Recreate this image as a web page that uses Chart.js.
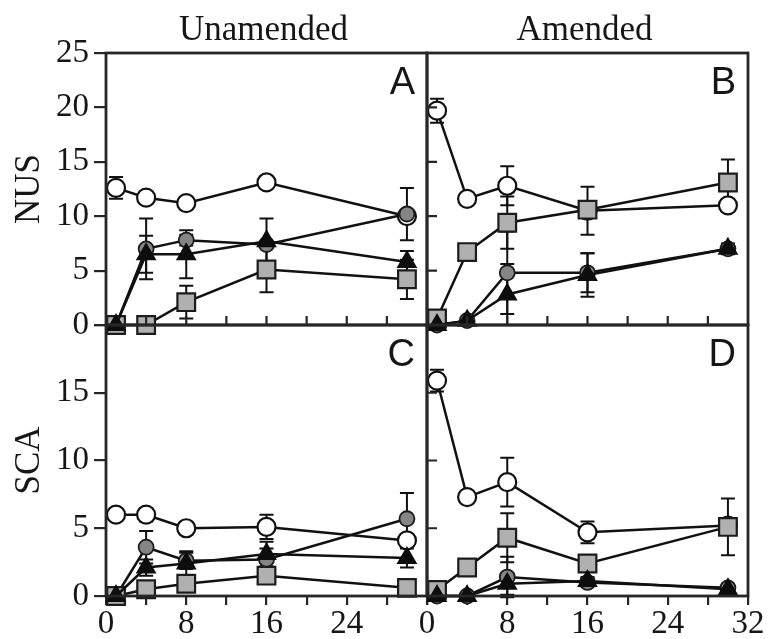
<!DOCTYPE html>
<html>
<head>
<meta charset="utf-8">
<script src="https://cdn.jsdelivr.net/npm/chart.js@4/dist/chart.umd.min.js"></script>
<style>
  html, body { margin: 0; padding: 0; background: #fff; }
  #wrap { position: relative; width: 768px; height: 639px; }
  #wrap canvas { position: absolute; left: 0; top: 0; }
</style>
</head>
<body>
<div id="wrap">
  <canvas id="pA" width="768" height="639"></canvas>
  <canvas id="pB" width="768" height="639"></canvas>
  <canvas id="pC" width="768" height="639"></canvas>
  <canvas id="pD" width="768" height="639"></canvas>
</div>
<script>
// Sampling days
const DAYS = [1, 4, 8, 16, 30];

// A: NUS, unamended
const aOpen = [12.6, 11.7, 11.2, 13.1, 10.0];
const aOpenErr = [1.0, 0, 0, 0, 0];
const aGray = [0, 7.0, 7.8, 7.4, 10.2];
const aGrayErr = [0, 2.8, 0.5, 0, 2.4];
const aTri = [0, 6.5, 6.5, 7.7, 5.8];
const aTriErr = [0, 1.7, 2.2, 2.1, 1.0];
const aSq = [0, 0, 2.1, 5.1, 4.2];
const aSqErr = [0, 0, 1.5, 2.1, 1.8];

// B: NUS, amended
const bOpen = [19.7, 11.6, 12.8, 10.5, 11.0];
const bOpenErr = [1.1, 0, 1.8, 2.2, 0.4];
const bGray = [0, 0.4, 4.8, 4.8, 7.0];
const bGrayErr = [0, 0, 3.8, 1.8, 0.4];
const bTri = [0, 0.4, 2.8, 4.6, 7.0];
const bTriErr = [0, 0, 2.8, 2.0, 0.5];
const bSq = [0.6, 6.7, 9.4, 10.6, 13.1];
const bSqErr = [0, 0, 2.4, 0.4, 2.1];

// C: SCA, unamended
const cOpen = [6.0, 6.0, 5.0, 5.1, 4.1];
const cOpenErr = [0, 0.5, 0.3, 0.9, 0];
const cGray = [0, 3.6, 2.6, 2.7, 5.7];
const cGrayErr = [0, 1.2, 0.6, 0.8, 1.9];
const cTri = [0, 2.1, 2.4, 3.1, 2.8];
const cTriErr = [0, 0.6, 0.9, 0.9, 0.7];
const cSq = [0, 0.5, 0.9, 1.5, 0.6];
const cSqErr = [0, 0, 0, 0, 0];

// D: SCA, amended
const dOpen = [15.9, 7.3, 8.4, 4.7, 5.2];
const dOpenErr = [0.8, 0, 1.8, 0.8, 0];
const dGray = [0, 0, 1.4, 1.0, 0.6];
const dGrayErr = [0, 0, 1.5, 0.3, 0.3];
const dTri = [0, 0, 0.9, 1.1, 0.5];
const dTriErr = [0, 0, 0.8, 0.3, 0.3];
const dSq = [0.45, 2.1, 4.3, 2.4, 5.1];
const dSqErr = [0, 0, 1.8, 0.5, 2.1];

const X_TICKS = [0, 8, 16, 24, 32];

const W = 768, H = 639;
const INK = '#161616';
const AXIS = '#262626';
const SERIF = '"Liberation Serif", "Times New Roman", serif';
const SANS = '"Liberation Sans", Arial, sans-serif';

const STYLES = {
  tri:  { pointStyle: 'triangle', pointRadius: 10.5, pointBackgroundColor: '#0d0d0d', pointBorderColor: '#0d0d0d', pointBorderWidth: 1.5, order: 0 },
  sq:   { pointStyle: 'rect', pointRadius: 12.5, pointBackgroundColor: '#b0b0b0', pointBorderColor: '#1c1c1c', pointBorderWidth: 2.2, order: 1 },
  gray: { pointStyle: 'circle', pointRadius: 7.5, pointBackgroundColor: '#858585', pointBorderColor: '#1c1c1c', pointBorderWidth: 1.8, order: 2 },
  open: { pointStyle: 'circle', pointRadius: 9, pointBackgroundColor: '#fff', pointBorderColor: '#111', pointBorderWidth: 2.2, order: 3 }
};

function series(values, errs, style) {
  return Object.assign({
    data: DAYS.map((d, i) => ({ x: d, y: values[i] })),
    errorBars: errs,
    showLine: true,
    borderColor: '#111',
    borderWidth: 2.5,
    tension: 0,
    clip: false,
    pointHoverRadius: style.pointRadius
  }, style);
}

// Error bars, inward ticks, frames and panel text
const decor = {
  id: 'decor',
  beforeDatasetsDraw(chart) {
    const ctx = chart.ctx;
    const ys = chart.scales.y;
    ctx.save();
    ctx.strokeStyle = '#111';
    ctx.lineWidth = 2;
    chart.data.datasets.forEach((ds, i) => {
      const meta = chart.getDatasetMeta(i);
      ds.data.forEach((pt, j) => {
        const e = ds.errorBars[j];
        if (!e) return;
        const x = meta.data[j].x;
        const y1 = ys.getPixelForValue(pt.y + e);
        const y2 = ys.getPixelForValue(pt.y - e);
        ctx.beginPath();
        ctx.moveTo(x, y1); ctx.lineTo(x, y2);
        ctx.moveTo(x - 7, y1); ctx.lineTo(x + 7, y1);
        ctx.moveTo(x - 7, y2); ctx.lineTo(x + 7, y2);
        ctx.stroke();
      });
    });
    ctx.restore();
  },
  afterDraw(chart, args, opts) {
    const ctx = chart.ctx;
    const a = chart.chartArea;
    const xs = chart.scales.x, ys = chart.scales.y;
    ctx.save();
    ctx.strokeStyle = AXIS;
    ctx.lineWidth = 2.2;
    ctx.beginPath();
    if (opts.innerX) {
      for (let v = 4; v < 32; v += 4) {
        const x = xs.getPixelForValue(v);
        ctx.moveTo(x, a.bottom); ctx.lineTo(x, a.bottom - 9);
      }
    }
    if (opts.innerY) {
      for (let v = 5; v < ys.max; v += 5) {
        const y = ys.getPixelForValue(v);
        ctx.moveTo(a.left, y); ctx.lineTo(a.left + 10, y);
      }
    }
    ctx.stroke();
    ctx.lineWidth = 2.8;
    ctx.strokeRect(a.left, a.top, a.right - a.left, a.bottom - a.top);

    ctx.fillStyle = INK;
    ctx.font = '38px ' + SANS;
    ctx.textAlign = 'right';
    ctx.textBaseline = 'alphabetic';
    ctx.fillText(opts.letter, a.right - 12, a.top + 41);

    ctx.font = '35px ' + SERIF;
    if (opts.title) {
      ctx.textAlign = 'center';
      ctx.fillText(opts.title, (a.left + a.right) / 2 - 3, 40);
    }
    if (opts.yTitle) {
      ctx.translate(39, (a.top + a.bottom) / 2);
      ctx.rotate(-Math.PI / 2);
      ctx.textAlign = 'center';
      ctx.fillText(opts.yTitle, 0, 0);
    }
    ctx.restore();
  }
};

function makePanel(p) {
  const [l, t, r, b] = p.rect;
  return new Chart(document.getElementById(p.id), {
    type: 'line',
    data: {
      datasets: [
        series(p.tri, p.triErr, STYLES.tri),
        series(p.sq, p.sqErr, STYLES.sq),
        series(p.gray, p.grayErr, STYLES.gray),
        series(p.open, p.openErr, STYLES.open)
      ]
    },
    options: {
      responsive: false,
      animation: false,
      devicePixelRatio: 1,
      events: [],
      layout: { padding: { left: 0, top: t, right: W - r, bottom: 0 } },
      plugins: {
        legend: { display: false },
        tooltip: { enabled: false },
        decor: { letter: p.letter, title: p.title, yTitle: p.yTitle, innerX: !p.bottomLabels, innerY: !p.leftLabels }
      },
      scales: {
        x: {
          type: 'linear', min: 0, max: 32, position: 'bottom',
          afterFit(s) { s.height = H - b; },
          border: { display: false },
          grid: { display: p.bottomLabels, drawOnChartArea: false, drawTicks: true, tickLength: 9, color: AXIS, lineWidth: 2.2 },
          ticks: {
            display: p.bottomLabels, stepSize: 4, autoSkip: false, maxRotation: 0, padding: 0,
            color: INK, font: { family: SERIF, size: 33 },
            callback: v => (X_TICKS.includes(v) && v <= p.xLabelMax) ? String(v) : ''
          }
        },
        y: {
          type: 'linear', min: 0, max: p.yMax,
          afterFit(s) { s.width = l; },
          border: { display: false },
          grid: { display: p.leftLabels, drawOnChartArea: false, drawTicks: true, tickLength: 12, color: AXIS, lineWidth: 2.2 },
          ticks: {
            display: p.leftLabels, stepSize: 5, padding: 5,
            color: INK, font: { family: SERIF, size: 33 },
            callback: v => (v <= p.yLabelMax) ? String(v) : ''
          }
        }
      }
    },
    plugins: [decor]
  });
}

[
  { id: 'pA', letter: 'A', title: 'Unamended', yTitle: 'NUS', rect: [106, 53, 427, 325], yMax: 25, yLabelMax: 25, xLabelMax: 32,
    leftLabels: true, bottomLabels: false,
    open: aOpen, openErr: aOpenErr, gray: aGray, grayErr: aGrayErr, tri: aTri, triErr: aTriErr, sq: aSq, sqErr: aSqErr },
  { id: 'pB', letter: 'B', title: 'Amended', yTitle: null, rect: [427, 53, 748, 325], yMax: 25, yLabelMax: 25, xLabelMax: 32,
    leftLabels: false, bottomLabels: false,
    open: bOpen, openErr: bOpenErr, gray: bGray, grayErr: bGrayErr, tri: bTri, triErr: bTriErr, sq: bSq, sqErr: bSqErr },
  { id: 'pC', letter: 'C', title: null, yTitle: 'SCA', rect: [106, 325, 427, 596], yMax: 20, yLabelMax: 15, xLabelMax: 24,
    leftLabels: true, bottomLabels: true,
    open: cOpen, openErr: cOpenErr, gray: cGray, grayErr: cGrayErr, tri: cTri, triErr: cTriErr, sq: cSq, sqErr: cSqErr },
  { id: 'pD', letter: 'D', title: null, yTitle: null, rect: [427, 325, 748, 596], yMax: 20, yLabelMax: 15, xLabelMax: 32,
    leftLabels: false, bottomLabels: true,
    open: dOpen, openErr: dOpenErr, gray: dGray, grayErr: dGrayErr, tri: dTri, triErr: dTriErr, sq: dSq, sqErr: dSqErr }
].forEach(makePanel);
</script>
</body>
</html>
